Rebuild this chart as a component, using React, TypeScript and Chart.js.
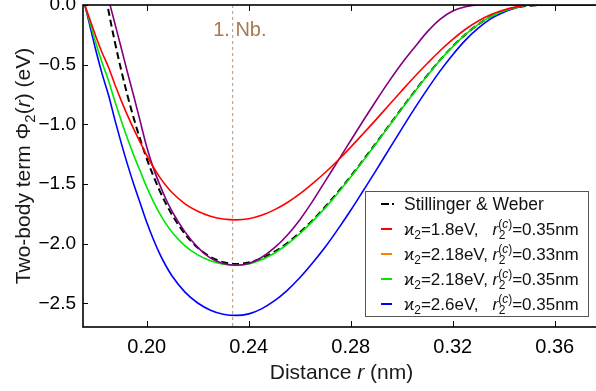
import React, { useEffect, useRef } from "react";
import { Chart, registerables } from "chart.js";

Chart.register(...registerables);

const FONT = '"Liberation Sans", Arial, Helvetica, sans-serif';

// Distance grid r (nm)
const distances = [
  0.175, 0.1775, 0.18, 0.1825, 0.185, 0.1875, 0.19, 0.1925, 0.195, 0.1975,
  0.2, 0.2025, 0.205, 0.2075, 0.21, 0.215, 0.22, 0.225, 0.23, 0.235,
  0.24, 0.245, 0.25, 0.255, 0.26, 0.265, 0.27, 0.275, 0.28, 0.285,
  0.29, 0.295, 0.3, 0.305, 0.31, 0.315, 0.32, 0.325, 0.33, 0.335,
  0.34, 0.345, 0.35, 0.355, 0.36, 0.37, 0.378,
];

// Stillinger & Weber (eV)
const swValues = [
  null, null, null, 0.24, -0.048, -0.31, -0.547, -0.762, -0.956, -1.13,
  -1.287, -1.427, -1.552, -1.663, -1.76, -1.919, -2.033, -2.11, -2.154, -2.169,
  -2.157, -2.122, -2.068, -1.995, -1.906, -1.804, -1.69, -1.566, -1.434, -1.296,
  -1.154, -1.01, -0.866, -0.725, -0.589, -0.462, -0.347, -0.246, -0.162, -0.096,
  -0.049, -0.021, -0.006, -0.001, 0, 0, 0,
];

// kappa2 = 1.8 eV, rc = 0.35 nm
const k18rc35 = [
  0.043, -0.108, -0.261, -0.4, -0.522, -0.666, -0.801, -0.927, -1.044, -1.152,
  -1.26, -1.355, -1.44, -1.512, -1.573, -1.665, -1.728, -1.769, -1.793, -1.8,
  -1.791, -1.762, -1.716, -1.656, -1.582, -1.496, -1.403, -1.3, -1.19, -1.075,
  -0.958, -0.837, -0.718, -0.601, -0.49, -0.383, -0.288, -0.203, -0.134, -0.079,
  -0.041, -0.016, 0, 0, 0, 0, 0,
];

// kappa2 = 2.18 eV, rc = 0.33 nm
const k218rc33 = [
  null, null, null, 0.25, 0.05, -0.155, -0.36, -0.57, -0.77, -0.98,
  -1.19, -1.36, -1.5, -1.625, -1.73, -1.9, -2.03, -2.12, -2.165, -2.18,
  -2.165, -2.115, -2.035, -1.93, -1.8, -1.645, -1.475, -1.305, -1.135, -0.965,
  -0.8, -0.64, -0.49, -0.355, -0.225, -0.12, -0.05, -0.015, 0, 0,
  0, 0, 0, 0, 0, 0, 0,
];

// kappa2 = 2.18 eV, rc = 0.35 nm
const k218rc35 = [
  0.052, -0.131, -0.316, -0.484, -0.632, -0.807, -0.97, -1.123, -1.264, -1.395,
  -1.526, -1.642, -1.744, -1.831, -1.905, -2.017, -2.093, -2.143, -2.171, -2.18,
  -2.169, -2.134, -2.079, -2.006, -1.916, -1.812, -1.699, -1.574, -1.441, -1.301,
  -1.16, -1.014, -0.87, -0.728, -0.593, -0.464, -0.349, -0.246, -0.162, -0.096,
  -0.05, -0.02, 0, 0, 0, 0, 0,
];

// kappa2 = 2.6 eV, rc = 0.35 nm
const k26rc35 = [
  0.062, -0.156, -0.377, -0.577, -0.754, -0.962, -1.157, -1.339, -1.508, -1.664,
  -1.82, -1.958, -2.08, -2.184, -2.272, -2.405, -2.496, -2.556, -2.59, -2.6,
  -2.587, -2.545, -2.479, -2.392, -2.285, -2.161, -2.027, -1.877, -1.719, -1.552,
  -1.383, -1.209, -1.037, -0.868, -0.707, -0.554, -0.416, -0.294, -0.194, -0.114,
  -0.06, -0.023, 0, 0, 0, 0, 0,
];

const xTicks = [0.2, 0.24, 0.28, 0.32, 0.36];
const yTicks = [0, -0.5, -1, -1.5, -2, -2.5];
const firstNeighbor = 0.2337;
const neighborLabel = "1. Nb.";

const legendKappas = ["1.8", "2.18", "2.18", "2.6"];
const legendCutoffs = ["0.35", "0.33", "0.35", "0.35"];
const legendColors = ["#ff0000", "#ff8000", "#00e600", "#0000ff"];

const toPoints = (vals: (number | null)[]) =>
  distances.map((x, i) => ({ x, y: vals[i] }));

type Part = { t: string; size: number; dy?: number; italic?: boolean };

function drawParts(ctx: CanvasRenderingContext2D, x: number, y: number, parts: Part[]) {
  let cx = x;
  for (const p of parts) {
    ctx.font = `${p.italic ? "italic " : ""}${p.size}px ${FONT}`;
    ctx.fillText(p.t, cx, y + (p.dy || 0));
    cx += ctx.measureText(p.t).width;
  }
  return cx;
}

const decorPlugin = {
  id: "decor",
  beforeDatasetsDraw(chart: any) {
    const { ctx, chartArea: a, scales } = chart;
    const px = scales.x.getPixelForValue(firstNeighbor);
    ctx.save();
    ctx.strokeStyle = "#b8956f";
    ctx.lineWidth = 1;
    ctx.setLineDash([3, 3]);
    ctx.beginPath();
    ctx.moveTo(px, a.top);
    ctx.lineTo(px, a.bottom);
    ctx.stroke();
    ctx.setLineDash([]);
    ctx.fillStyle = "#a67b4f";
    ctx.font = `20px ${FONT}`;
    ctx.textAlign = "left";
    ctx.textBaseline = "alphabetic";
    ctx.fillText(neighborLabel, px - 19.5, 36);
    ctx.restore();
  },
  afterDraw(chart: any) {
    const { ctx, chartArea: a, scales } = chart;
    ctx.save();
    // frame
    ctx.strokeStyle = "#000";
    ctx.lineWidth = 1.6;
    ctx.strokeRect(a.left, a.top, a.right - a.left, a.bottom - a.top);
    // inward ticks
    ctx.lineWidth = 1;
    ctx.beginPath();
    for (const v of xTicks) {
      const px = Math.round(scales.x.getPixelForValue(v)) + 0.5;
      ctx.moveTo(px, a.bottom);
      ctx.lineTo(px, a.bottom - 6);
      ctx.moveTo(px, a.top);
      ctx.lineTo(px, a.top + 6);
    }
    for (const v of yTicks) {
      const py = Math.round(scales.y.getPixelForValue(v)) + 0.5;
      ctx.moveTo(a.left, py);
      ctx.lineTo(a.left + 5, py);
    }
    ctx.stroke();

    // axis titles
    ctx.fillStyle = "#1a1a1a";
    ctx.textBaseline = "alphabetic";
    ctx.textAlign = "left";
    const xParts: Part[] = [
      { t: "Distance ", size: 21 },
      { t: "r", size: 21, italic: true },
      { t: " (nm)", size: 21 },
    ];
    let w = 0;
    for (const p of xParts) {
      ctx.font = `${p.italic ? "italic " : ""}${p.size}px ${FONT}`;
      w += ctx.measureText(p.t).width;
    }
    drawParts(ctx, (a.left + a.right) / 2 - w / 2, 379, xParts);

    const yParts: Part[] = [
      { t: "Two-body term Φ", size: 21 },
      { t: "2", size: 15, dy: 5 },
      { t: "(", size: 21 },
      { t: "r", size: 21, italic: true },
      { t: ") (eV)", size: 21 },
    ];
    w = 0;
    for (const p of yParts) {
      ctx.font = `${p.italic ? "italic " : ""}${p.size}px ${FONT}`;
      w += ctx.measureText(p.t).width;
    }
    ctx.save();
    ctx.translate(29.5, (a.top + a.bottom) / 2);
    ctx.rotate(-Math.PI / 2);
    drawParts(ctx, -w / 2, 0, yParts);
    ctx.restore();

    // legend
    const bx = 365.5, by = 191.5, bw = 223, bh = 125;
    ctx.fillStyle = "#fff";
    ctx.fillRect(bx, by, bw, bh);
    ctx.strokeStyle = "#555";
    ctx.lineWidth = 1;
    ctx.strokeRect(bx, by, bw, bh);
    const rowY = (i: number) => 204 + 25 * i;
    const textX = 404;
    const fs = 17;
    ctx.fillStyle = "#111";
    // SW entry
    ctx.strokeStyle = "#000";
    ctx.lineWidth = 2;
    ctx.setLineDash([8, 3]);
    ctx.beginPath();
    ctx.moveTo(381, rowY(0));
    ctx.lineTo(394, rowY(0));
    ctx.stroke();
    ctx.setLineDash([]);
    drawParts(ctx, textX, rowY(0) + 6, [{ t: "Stillinger & Weber", size: 17.5 }]);
    for (let i = 0; i < legendKappas.length; i++) {
      const yy = rowY(i + 1);
      ctx.strokeStyle = legendColors[i];
      ctx.lineWidth = 2;
      ctx.beginPath();
      ctx.moveTo(381, yy);
      ctx.lineTo(392, yy);
      ctx.stroke();
      const base = yy + 6;
      const kEnd = drawParts(ctx, textX, base, [
        { t: "ϰ", size: fs },
        { t: "2", size: 12, dy: 4 },
        { t: `=${legendKappas[i]}eV,`, size: fs },
      ]);
      const rX = Math.max(492.5, kEnd + 4.5);
      let cx = drawParts(ctx, rX, base, [{ t: "r", size: fs, italic: true }]);
      const subEnd = drawParts(ctx, cx + 0.5, base, [{ t: "2", size: 12, dy: 4 }]);
      const supEnd = drawParts(ctx, cx, base, [
        { t: "(", size: 12, dy: -7 },
        { t: "c", size: 12, dy: -7, italic: true },
        { t: ")", size: 12, dy: -7 },
      ]);
      cx = Math.max(subEnd, supEnd);
      drawParts(ctx, cx, base, [{ t: `=${legendCutoffs[i]}nm`, size: fs }]);
    }
    ctx.restore();
  },
};

export default function App() {
  const canvasRef = useRef<HTMLCanvasElement | null>(null);

  useEffect(() => {
    if (!canvasRef.current) return;
    const common = {
      fill: false,
      pointRadius: 0,
      pointHoverRadius: 0,
      cubicInterpolationMode: "monotone" as const,
      spanGaps: false,
    };
    const chart = new Chart(canvasRef.current, {
      type: "line",
      data: {
        datasets: [
          { ...common, label: "κ2=1.8eV, r2(c)=0.35nm", data: toPoints(k18rc35), borderColor: "#ff0000", borderWidth: 1.6 },
          { ...common, label: "κ2=2.18eV, r2(c)=0.33nm", data: toPoints(k218rc33), borderColor: "#800080", borderWidth: 1.6 },
          { ...common, label: "κ2=2.18eV, r2(c)=0.35nm", data: toPoints(k218rc35), borderColor: "#00e600", borderWidth: 1.6 },
          { ...common, label: "κ2=2.6eV, r2(c)=0.35nm", data: toPoints(k26rc35), borderColor: "#0000ff", borderWidth: 1.6 },
          { ...common, label: "Stillinger & Weber", data: toPoints(swValues), borderColor: "#000000", borderWidth: 2, borderDash: [7, 4] },
        ] as any,
      },
      options: {
        animation: false,
        responsive: false,
        events: [],
        layout: { padding: { top: 5, left: 0, right: 0, bottom: 0 } },
        plugins: { legend: { display: false }, tooltip: { enabled: false }, title: { display: false } },
        scales: {
          x: {
            type: "linear",
            min: 0.175,
            max: 0.37775,
            grid: { display: false, drawTicks: false },
            border: { display: false },
            afterBuildTicks: (scale: any) => {
              scale.ticks = xTicks.map((v) => ({ value: v }));
            },
            afterFit: (scale: any) => {
              scale.height = 64;
              scale.paddingLeft = 0;
              scale.paddingRight = 0;
            },
            ticks: {
              padding: 8,
              color: "#000",
              font: { family: FONT, size: 20 },
              callback: (v: any) => Number(v).toFixed(2),
            },
          },
          y: {
            type: "linear",
            min: -2.697,
            max: 0,
            grid: { display: false, drawTicks: false },
            border: { display: false },
            afterBuildTicks: (scale: any) => {
              scale.ticks = yTicks.map((v) => ({ value: v }));
            },
            afterFit: (scale: any) => {
              scale.width = 83;
              scale.paddingTop = 0;
              scale.paddingBottom = 0;
            },
            ticks: {
              padding: 7,
              color: "#000",
              font: { family: FONT, size: 19 },
              callback: (v: any) => Number(v).toFixed(1).replace("-", "−"),
            },
          },
        },
      },
      plugins: [decorPlugin],
    } as any);
    return () => chart.destroy();
  }, []);

  return (
    <div style={{ position: "fixed", left: 0, top: 0, width: 596, height: 391, overflow: "hidden", background: "#fff" }}>
      <canvas ref={canvasRef} width={600} height={391} style={{ display: "block" }} />
    </div>
  );
}
